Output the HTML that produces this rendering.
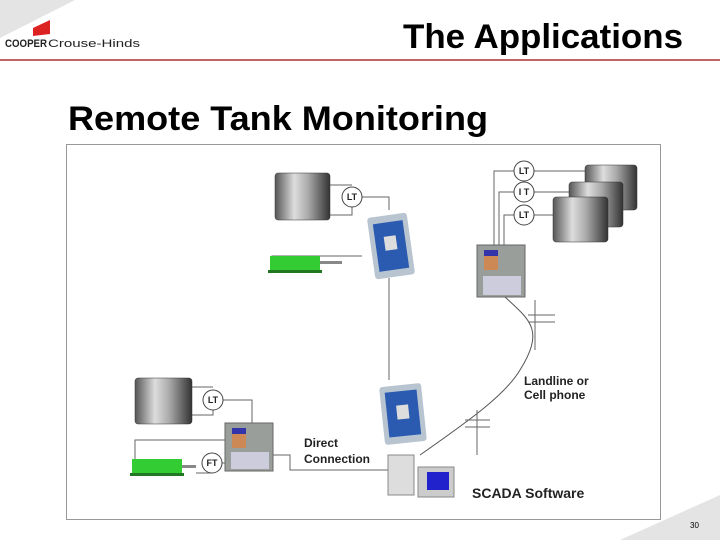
<!DOCTYPE html>
<html><head><meta charset="utf-8"><style>
body{margin:0;width:720px;height:540px;overflow:hidden;background:#fff;font-family:"Liberation Sans",sans-serif}
</style></head><body>
<svg width="720" height="540" viewBox="0 0 720 540" xmlns="http://www.w3.org/2000/svg" font-family="Liberation Sans, sans-serif">
<defs>
<linearGradient id="tk" x1="0" x2="1" y1="0" y2="0">
<stop offset="0" stop-color="#555"/><stop offset="0.35" stop-color="#ddd"/><stop offset="0.6" stop-color="#aaa"/><stop offset="1" stop-color="#333"/>
</linearGradient>
</defs>
<polygon points="0,0 75,0 0,38" fill="#e4e4e4"/>
<polygon points="620,540 720,495 720,540" fill="#e4e4e4"/>
<polygon points="33,28 50,20 50,34 33,36" fill="#d22"/>
<text x="5" y="47" font-size="11" font-weight="bold" fill="#222" textLength="42" lengthAdjust="spacingAndGlyphs">COOPER</text>
<text x="48" y="47" font-size="11" fill="#222" textLength="92" lengthAdjust="spacingAndGlyphs">Crouse-Hinds</text>
<line x1="0" y1="60" x2="720" y2="60" stroke="#a33" stroke-width="1.5"/>
<text x="403" y="48" font-size="34" font-weight="bold" textLength="280" lengthAdjust="spacingAndGlyphs">The Applications</text>
<text x="68" y="130" font-size="34" font-weight="bold" textLength="420" lengthAdjust="spacingAndGlyphs">Remote Tank Monitoring</text>
<rect x="66.5" y="144.5" width="594" height="375" fill="none" stroke="#999"/>
<g fill="none" stroke="#666" stroke-width="1">
<path d="M330 185 H352 M330 215 H352 V207 M362 197 H389 V210"/>
<path d="M272 262 V256 H362"/>
<path d="M389 278 V380"/>
<path d="M494 245 V171 H514 M499 245 V192 H514 M504 245 V215 H514"/>
<path d="M534 171 H590 M534 192 H575 M534 215 H555"/>
<path d="M192 387 H213 M192 415 H213 V410 M223 400 H252 V423"/>
<path d="M135 465 V440 H225 M212 473 H196 M222 463 H225"/>
<path d="M272 455 H290 V470 H388"/>
<path d="M505 297 C530 320 545 330 520 370 C505 395 470 420 420 455" stroke="#555"/>
<path d="M535 300 V350 M528 315 H555 M528 322 H555 M477 410 V455 M465 420 H490 M465 427 H490"/>
</g>
<g stroke="#333" stroke-width="0.5">
<rect x="585" y="165" width="52" height="45" fill="url(#tk)" rx="3"/>
<rect x="569" y="182" width="54" height="45" fill="url(#tk)" rx="3"/>
<rect x="553" y="197" width="55" height="45" fill="url(#tk)" rx="3"/>
<rect x="275" y="173" width="55" height="47" fill="url(#tk)" rx="3"/>
<rect x="135" y="378" width="57" height="46" fill="url(#tk)" rx="3"/>
</g>
<g fill="#fff" stroke="#444">
<circle cx="352" cy="197" r="10"/><circle cx="524" cy="171" r="10"/><circle cx="524" cy="192" r="10"/><circle cx="524" cy="215" r="10"/><circle cx="213" cy="400" r="10"/><circle cx="212" cy="463" r="10"/>
</g>
<g font-size="9" font-weight="bold" text-anchor="middle" fill="#222">
<text x="352" y="200">LT</text><text x="524" y="174">LT</text><text x="524" y="195">I T</text><text x="524" y="218">LT</text><text x="213" y="403">LT</text><text x="212" y="466">FT</text>
</g>
<g>
<rect x="371" y="215" width="40" height="62" fill="#b8c4d0" transform="rotate(-8 391 246)" rx="3"/>
<rect x="376" y="222" width="30" height="48" fill="#2a5bb0" transform="rotate(-8 391 246)"/>
<rect x="385" y="236" width="12" height="14" fill="#ddd" transform="rotate(-8 391 246)"/>
<rect x="382" y="385" width="42" height="58" fill="#b8c4d0" transform="rotate(-6 403 414)" rx="3"/>
<rect x="387" y="391" width="32" height="45" fill="#2a5bb0" transform="rotate(-6 403 414)"/>
<rect x="397" y="405" width="12" height="14" fill="#ddd" transform="rotate(-6 403 414)"/>
</g>
<g>
<rect x="477" y="245" width="48" height="52" fill="#9a9e9a" stroke="#666"/>
<rect x="484" y="250" width="14" height="20" fill="#c85"/><rect x="484" y="250" width="14" height="6" fill="#33a"/>
<rect x="483" y="276" width="38" height="19" fill="#ccd"/>
<rect x="225" y="423" width="48" height="48" fill="#9a9e9a" stroke="#666"/>
<rect x="232" y="428" width="14" height="20" fill="#c85"/><rect x="232" y="428" width="14" height="6" fill="#33a"/>
<rect x="231" y="452" width="38" height="17" fill="#ccd"/>
</g>
<g>
<rect x="270" y="256" width="50" height="14" fill="#3c3"/><rect x="320" y="261" width="22" height="3" fill="#888"/><rect x="268" y="270" width="54" height="3" fill="#272"/>
<rect x="132" y="459" width="50" height="14" fill="#3c3"/><rect x="182" y="465" width="14" height="3" fill="#888"/><rect x="130" y="473" width="54" height="3" fill="#272"/>
</g>
<rect x="388" y="455" width="26" height="40" fill="#ddd" stroke="#888"/>
<rect x="418" y="467" width="36" height="30" fill="#ccc" stroke="#888"/>
<rect x="427" y="472" width="22" height="18" fill="#22c"/>
<g font-weight="bold" fill="#222">
<text x="524" y="385" font-size="12">Landline or</text>
<text x="524" y="399" font-size="12">Cell phone</text>
<text x="304" y="447" font-size="12">Direct</text>
<text x="304" y="463" font-size="12">Connection</text>
<text x="472" y="498" font-size="14">SCADA Software</text>
</g>
<text x="690" y="528" font-size="8">30</text>
</svg>
</body></html>
